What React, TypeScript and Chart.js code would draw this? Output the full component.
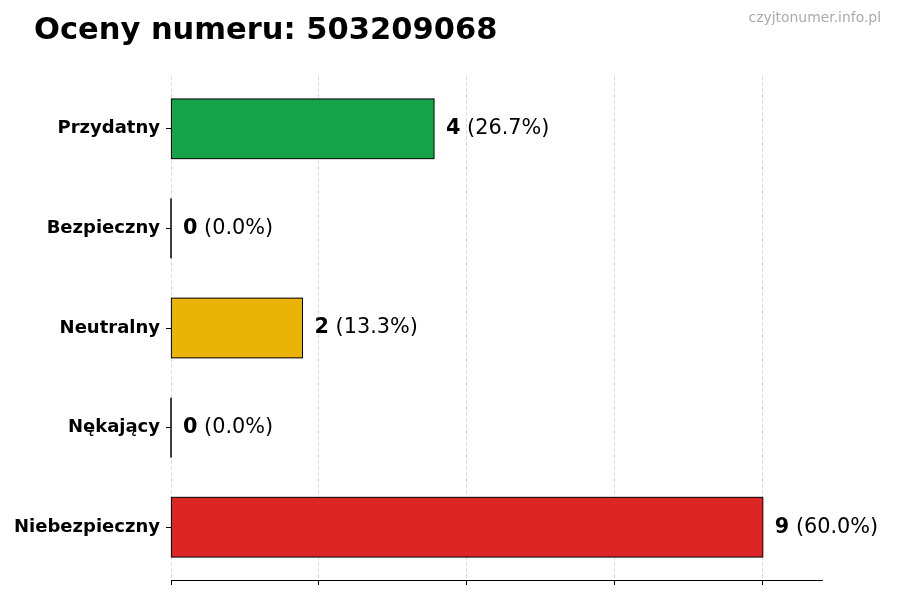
import { useEffect, useRef } from "react"
import { Chart, registerables } from "chart.js"

Chart.register(...registerables)

// Data
const categories = ["Przydatny", "Bezpieczny", "Neutralny", "Nękający", "Niebezpieczny"]
const counts = [4, 0, 2, 0, 9]
const percents = ["26.7%", "0.0%", "13.3%", "0.0%", "60.0%"]
const barColors = ["#16a34a", "#16a34a", "#eab308", "#dc2626", "#dc2626"]
const xTickValues = [0, 2.25, 4.5, 6.75, 9]
const xMax = 9.9

const titleText = "Oceny numeru: 503209068"
const watermarkText = "czyjtonumer.info.pl"
const FONT = "'DejaVu Sans', sans-serif"

const decorations = {
  id: "decorations",
  afterDatasetsDraw(chart: any) {
    const ctx = chart.ctx
    const meta = chart.getDatasetMeta(0)
    ctx.save()
    // bar outlines (drawn even for zero-length bars)
    ctx.strokeStyle = "#000"
    ctx.lineWidth = 1
    meta.data.forEach((bar: any) => {
      const { x, y, base, height } = bar.getProps(["x", "y", "base", "height"], true)
      const left = Math.min(x, base)
      const w = Math.abs(x - base)
      ctx.strokeRect(left, y - height / 2, w, height)
    })
    // value labels
    ctx.textBaseline = "middle"
    ctx.textAlign = "left"
    meta.data.forEach((bar: any, i: number) => {
      const { x, y } = bar.getProps(["x", "y"], true)
      const bold = String(counts[i])
      ctx.fillStyle = "#000"
      ctx.font = `bold 20.8px ${FONT}`
      const tx = x + 12
      ctx.fillText(bold, tx, y)
      const bw = ctx.measureText(bold).width
      ctx.font = `20.8px ${FONT}`
      ctx.fillText(` (${percents[i]})`, tx + bw, y)
    })
    ctx.restore()
  },
  afterDraw(chart: any) {
    const ctx = chart.ctx
    ctx.save()
    ctx.textBaseline = "middle"
    ctx.fillStyle = "#000"
    ctx.font = `bold 30.5px ${FONT}`
    ctx.textAlign = "left"
    ctx.fillText(titleText, 34, 31)
    ctx.fillStyle = "#aaaaaa"
    ctx.font = `13.9px ${FONT}`
    ctx.textAlign = "right"
    ctx.fillText(watermarkText, 881, 18)
    ctx.restore()
  },
}

export default function App() {
  const chartRef = useRef<HTMLCanvasElement>(null)
  const chartInstance = useRef<Chart | null>(null)

  useEffect(() => {
    if (!chartRef.current) return
    if (chartInstance.current) chartInstance.current.destroy()

    const ctx = chartRef.current.getContext("2d")
    if (!ctx) return

    chartInstance.current = new Chart(ctx, {
      type: "bar",
      data: {
        labels: categories,
        datasets: [
          {
            data: counts,
            backgroundColor: barColors,
            borderWidth: 0,
            barPercentage: 0.6,
            categoryPercentage: 1,
          },
        ],
      },
      options: {
        indexAxis: "y",
        animation: false,
        responsive: true,
        maintainAspectRatio: false,
        layout: { padding: { left: 0, top: 76, right: 78, bottom: 0 } },
        plugins: {
          legend: { display: false },
          tooltip: { enabled: false },
          title: { display: false },
        },
        scales: {
          x: {
            type: "linear",
            min: 0,
            max: xMax,
            z: 1,
            afterBuildTicks: (scale: any) => {
              scale.ticks = xTickValues.map((v) => ({ value: v }))
            },
            afterFit: (scale: any) => {
              scale.height = 20
            },
            ticks: { display: false },
            grid: {
              color: "rgba(0,0,0,0.17)",
              lineWidth: 0.8,
              drawTicks: true,
              tickLength: 5,
              tickColor: "#000",
              tickWidth: 1,
            },
            border: { display: true, color: "#000", width: 1, dash: [4, 2] },
          },
          y: {
            // slightly wider end margins than the default half-category offset
            afterBuildTicks: (scale: any) => {
              scale._startValue = -0.53
              scale._valueRange = categories.length - 1 + 1.06
            },
            afterFit: (scale: any) => {
              scale.width = 171
            },
            grid: {
              offset: false,
              drawOnChartArea: false,
              drawTicks: true,
              tickLength: 5,
              tickColor: "#000",
              tickWidth: 1,
            },
            border: { display: false },
            ticks: {
              color: "#000",
              padding: 6,
              font: { family: FONT, size: 18, weight: "bold" },
            },
          },
        },
      },
      plugins: [decorations],
    })

    return () => {
      if (chartInstance.current) {
        chartInstance.current.destroy()
        chartInstance.current = null
      }
    }
  }, [])

  return (
    <div style={{ position: "fixed", left: 0, top: 0, width: 900, height: 600, background: "#fff" }}>
      <canvas ref={chartRef} />
    </div>
  )
}
